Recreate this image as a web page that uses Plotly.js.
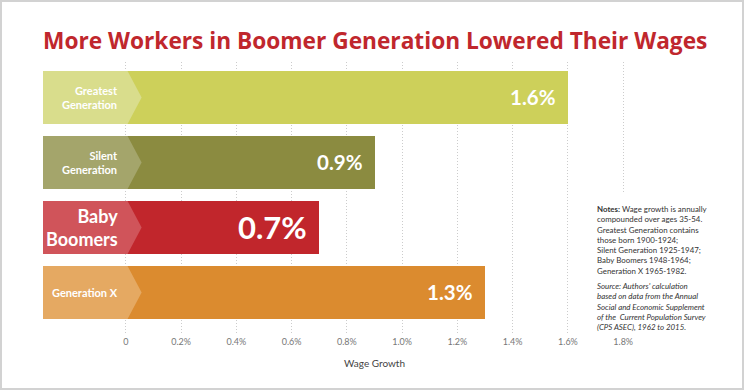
<!DOCTYPE html>
<html>
<head>
<meta charset="utf-8">
<script src="https://cdn.plot.ly/plotly-3.0.1.min.js"></script>
<style>
  html, body { margin: 0; padding: 0; background: #fff; }
  #wrap { position: relative; width: 744px; height: 390px; }
  #chart { width: 744px; height: 390px; }
  #frame { position: absolute; left: 0; top: 0; width: 744px; height: 390px; box-sizing: border-box;
           border: 2px solid #d2d2d2; pointer-events: none; }
</style>
</head>
<body>
<div id="wrap"><div id="chart"></div><div id="frame"></div></div>
<script>
// ---- data ----
const categories = ["Greatest Generation", "Silent Generation", "Baby Boomers", "Generation X"];
const categoryLabels = ["Greatest<br>Generation", "Silent<br>Generation", "Baby<br>Boomers", "Generation X"];
const wageGrowth = [1.6, 0.9, 0.7, 1.3];          // percent
const valueLabels = ["1.6%", "0.9%", "0.7%", "1.3%"];
const tickValues = [0, 0.2, 0.4, 0.6, 0.8, 1.0, 1.2, 1.4, 1.6, 1.8];
const tickLabels = ["0", "0.2%", "0.4%", "0.6%", "0.8%", "1.0%", "1.2%", "1.4%", "1.6%", "1.8%"];
const notesText = "<b>Notes:</b> Wage growth is annually<br>compounded over ages 35-54.<br>Greatest Generation contains<br>those born 1900-1924;<br>Silent Generation 1925-1947;<br>Baby Boomers 1948-1964;<br>Generation X 1965-1982.";
const sourceText = "<i>Source: Authors' calculation<br>based on data from the Annual<br>Social and Economic Supplement<br>of the  Current Population Survey<br>(CPS ASEC), 1962 to 2015.</i>";

// ---- styling ----
const mainColors = ["#cdd05a", "#8b8b40", "#c1262c", "#db8b2f"];
const lightColors = ["#d9dd8c", "#a4a56b", "#d0545a", "#e5a962"];
const labelSizes = [11, 11, 18, 11];
const valueSizes = [20.5, 20.5, 31, 20.5];
const barStart = -0.3;      // label panel starts left of zero
const panelEnd = 0.006;     // end of light label panel
const panelTip = 0.057;     // chevron tip
const barWidth = 0.815;
const half = barWidth / 2;

const n = categories.length;
const ypos = categories.map((c, i) => n - 1 - i);

const trace = {
  type: "bar",
  orientation: "h",
  y: ypos,
  x: wageGrowth.map(v => v - barStart),
  base: barStart,
  width: barWidth,
  marker: { color: mainColors, line: { width: 0 } },
  hoverinfo: "skip",
  showlegend: false
};

const shapes = ypos.map((y, i) => ({
  type: "path", xref: "x", yref: "y", layer: "above",
  path: `M ${barStart},${y - half} L ${panelEnd},${y - half} L ${panelTip},${y} L ${panelEnd},${y + half} L ${barStart},${y + half} Z`,
  fillcolor: lightColors[i], line: { width: 0 }
}));
// cover the 1.8% gridline behind the notes
shapes.push({ type: "rect", xref: "paper", yref: "paper", layer: "above",
  x0: 0.95, x1: 1.0, y0: 0, y1: 0.522, fillcolor: "#ffffff", line: { width: 0 } });

const annotations = [];
ypos.forEach((y, i) => {
  annotations.push({
    x: 0, y: y, xref: "x", yref: "y", xanchor: "right", yanchor: "middle", xshift: -6,
    text: "<b>" + categoryLabels[i] + "</b>", align: "right", showarrow: false,
    font: { family: "Lato, sans-serif", size: labelSizes[i], color: "#ffffff", weight: 800 }
  });
  annotations.push({
    x: wageGrowth[i], y: y, xref: "x", yref: "y", xanchor: "right", yanchor: "middle", xshift: -10,
    text: "<b>" + valueLabels[i] + "</b>", showarrow: false,
    font: { family: "Lato, sans-serif", size: valueSizes[i], color: "#ffffff", weight: 900 }
  });
});
annotations.push({
  x: 0.9, y: -(363 - 335) / 273, xref: "x", yref: "paper", yanchor: "middle", xanchor: "center",
  text: "Wage Growth", showarrow: false,
  font: { family: "Lato, sans-serif", size: 10, color: "#444" }
});
annotations.push({
  xref: "paper", yref: "paper", x: 0.9285, y: (335 - 202) / 273, xanchor: "left", yanchor: "top", align: "left",
  showarrow: false, font: { family: "Lato, sans-serif", size: 7.9, color: "#333" }, text: notesText
});
annotations.push({
  xref: "paper", yref: "paper", x: 0.9285, y: (335 - 279) / 273, xanchor: "left", yanchor: "top", align: "left",
  showarrow: false, font: { family: "Lato, sans-serif", size: 7.9, color: "#333" }, text: sourceText
});

const layout = {
  width: 744, height: 390,
  margin: { l: 43, r: 106.5, t: 62, b: 55 },
  paper_bgcolor: "#ffffff", plot_bgcolor: "#ffffff",
  title: {
    text: "<b>More Workers in Boomer Generation Lowered Their Wages</b>",
    xref: "paper", x: 0, xanchor: "left",
    yref: "container", y: 1 - 41 / 390, yanchor: "middle",
    font: { family: "Open Sans, sans-serif", size: 22.7, color: "#c0272d", weight: 800 }
  },
  xaxis: {
    range: [barStart, 1.85],
    tickvals: tickValues, ticktext: tickLabels,
    showgrid: true, gridcolor: "#cccccc", griddash: "1px,2px", gridwidth: 1,
    zeroline: false, showline: false, ticks: "",
    tickfont: { family: "Lato, sans-serif", size: 9, color: "#777" },
    fixedrange: true
  },
  yaxis: {
    range: [-0.654, 3.546], visible: false, fixedrange: true
  },
  bargap: 0,
  shapes: shapes,
  annotations: annotations
};

Plotly.newPlot("chart", [trace], layout, { displayModeBar: false, staticPlot: true });
</script>
</body>
</html>
